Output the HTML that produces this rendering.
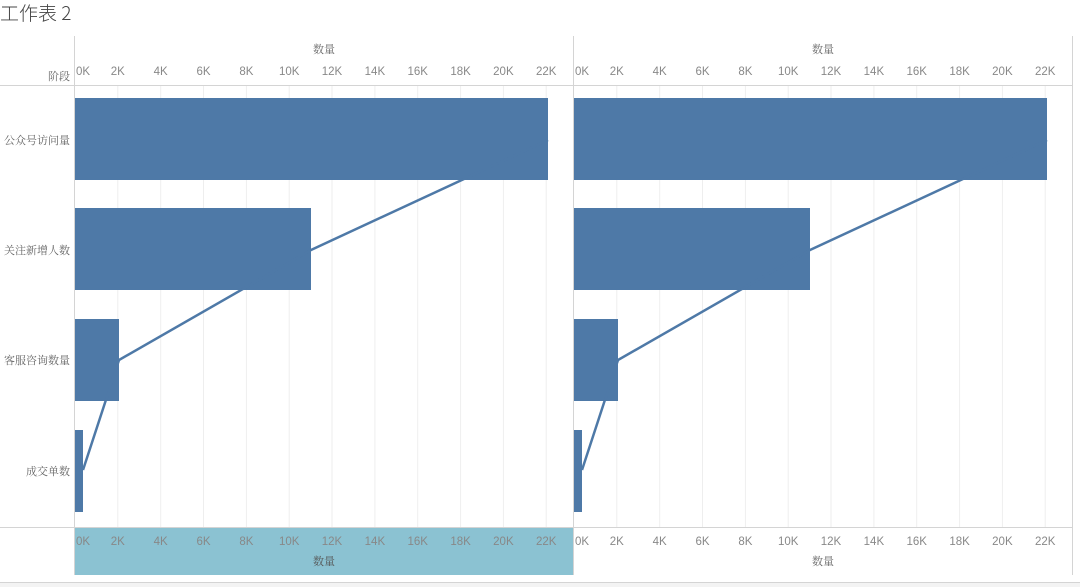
<!DOCTYPE html>
<html><head><meta charset="utf-8"><style>
body{margin:0;background:#fff;width:1080px;height:587px;overflow:hidden}
svg{display:block;font-family:"Liberation Sans","Noto Sans CJK SC",sans-serif}
.t{font-size:11.5px;fill:#888}
.c{font-size:11px;fill:#666;font-family:"Noto Serif CJK SC","Noto Sans CJK SC",serif}
</style></head><body>
<svg width="1080" height="587" viewBox="0 0 1080 587">
<text x="0" y="20" font-size="19" fill="#444" font-family="Noto Sans CJK SC, sans-serif" font-weight="300">工作表 2</text>
<rect x="74" y="527" width="499" height="48" fill="#8bc2d2"/>
<g id="grid" stroke="#eee" stroke-width="1">
<line x1="117.8" y1="85" x2="117.8" y2="527"/><line x1="160.7" y1="85" x2="160.7" y2="527"/><line x1="203.5" y1="85" x2="203.5" y2="527"/><line x1="246.4" y1="85" x2="246.4" y2="527"/><line x1="289.2" y1="85" x2="289.2" y2="527"/><line x1="332" y1="85" x2="332" y2="527"/><line x1="374.9" y1="85" x2="374.9" y2="527"/><line x1="417.7" y1="85" x2="417.7" y2="527"/><line x1="460.6" y1="85" x2="460.6" y2="527"/><line x1="503.4" y1="85" x2="503.4" y2="527"/><line x1="546.2" y1="85" x2="546.2" y2="527"/>
</g>
<use href="#grid" x="499"/>
<g stroke="#d4d4d4" stroke-width="1">
<line x1="74.5" y1="36" x2="74.5" y2="575"/>
<line x1="573.5" y1="36" x2="573.5" y2="575"/>
<line x1="1072.5" y1="36" x2="1072.5" y2="575"/>
<line x1="0" y1="85.5" x2="1072" y2="85.5"/>
<line x1="0" y1="527.5" x2="1072" y2="527.5"/>
<line x1="0" y1="582.5" x2="1080" y2="582.5"/>
</g>
<rect x="0" y="583" width="1080" height="4" fill="#f3f3f3"/>
<g id="bars" fill="#4e79a7">
<rect x="75" y="98" width="473" height="82"/>
<rect x="75" y="208" width="236" height="82"/>
<rect x="75" y="319" width="44" height="82"/>
<rect x="75" y="430" width="8" height="82"/>
<polyline points="548,140 311,250 119,360 83,470" fill="none" stroke="#4e79a7" stroke-width="2.5"/>
</g>
<use href="#bars" x="499"/>
<g id="ticks" class="t" text-anchor="middle">
<text x="83" y="75">0K</text><text x="117.8" y="75">2K</text><text x="160.7" y="75">4K</text><text x="203.5" y="75">6K</text><text x="246.4" y="75">8K</text><text x="289.2" y="75">10K</text><text x="332" y="75">12K</text><text x="374.9" y="75">14K</text><text x="417.7" y="75">16K</text><text x="460.6" y="75">18K</text><text x="503.4" y="75">20K</text><text x="546.2" y="75">22K</text>
</g>
<use href="#ticks" x="499"/>
<g style="fill:#666"><use href="#ticks" y="470" style="fill:#666"/></g>
<use href="#ticks" x="499" y="470"/>
<g class="c" text-anchor="middle">
<text x="324" y="53">数量</text><text x="823" y="53">数量</text>
<text x="324" y="565" fill="#555">数量</text><text x="823" y="565">数量</text>
</g>
<g class="c" text-anchor="end">
<text x="70" y="80">阶段</text>
<text x="70" y="144">公众号访问量</text>
<text x="70" y="254">关注新增人数</text>
<text x="70" y="364">客服咨询数量</text>
<text x="70" y="475">成交单数</text>
</g>
</svg>
</body></html>
